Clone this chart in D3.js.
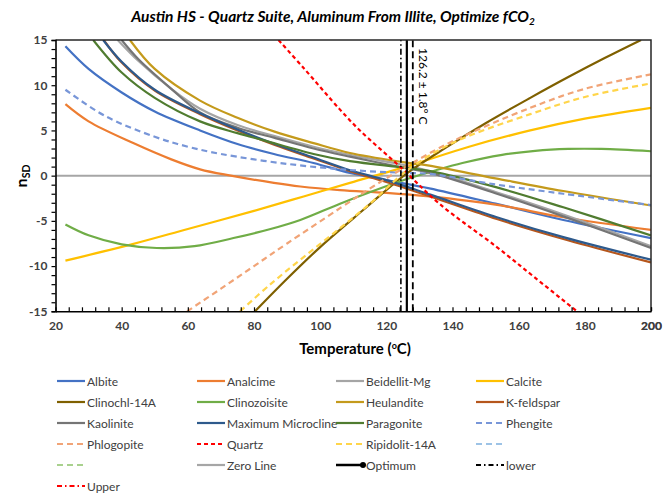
<!DOCTYPE html>
<html>
<head>
<meta charset="utf-8">
<script src="https://cdn.jsdelivr.net/npm/d3@7"></script>
<style>
  html, body { margin: 0; padding: 0; background: #fff; }
  svg { display: block; font-family: Lato, "Open Sans", "Liberation Sans", sans-serif; }
</style>
</head>
<body>
<svg id="chart" width="664" height="493"></svg>
<script>
// ---- data: [temperature °C, n_SD] ----
const albite = [[23,14.3],[30,11.8],[40,9.2],[50,7.1],[63.7,5.0],[75,3.5],[86,2.4],[98,1.4],[109,0.3],[120,-0.5],[133,-1.4],[153,-3.1],[173.5,-4.9],[200,-6.9]];
const analcime = [[23,7.9],[30,6.0],[43.5,3.6],[55,1.8],[63.7,0.7],[73,0],[86,-0.8],[94,-1.2],[106,-1.6],[120,-1.9],[133,-2.3],[153,-3.2],[173.5,-4.6],[200,-6.0]];
const beidellitMg = [[38.8,15],[45,12.7],[55,9.6],[63.7,7.4],[75,5.6],[86,4.4],[98,3.2],[109,2.3],[125,1.2],[133,0.5],[153,-1.8],[173.5,-4.3],[200,-7.8]];
const calcite = [[23,-9.4],[43,-7.6],[60,-5.9],[80,-3.9],[95,-2.3],[109,-0.8],[126,1.0],[145,3.2],[163.5,5.0],[180,6.3],[200,7.5]];
const clinochl14A = [[80.3,-15],[90,-11.4],[100,-7.9],[113,-3.8],[126,0.2],[138,3.1],[150,5.8],[163.5,8.6],[175,10.9],[186,13.0],[197,15]];
const clinozoisite = [[23,-5.4],[30,-6.6],[40,-7.6],[50.6,-8.0],[62,-7.8],[73.8,-6.9],[85,-5.9],[94,-4.9],[106,-3.1],[116,-1.7],[126,-0.4],[135,0.6],[143,1.4],[155,2.3],[165,2.75],[175,2.95],[185,2.95],[200,2.7]];
const heulandite = [[42.5,15],[50,11.8],[63.7,8.3],[75,6.4],[86,4.9],[98,3.6],[109,2.5],[125,1.5],[133,1.1],[153,-0.3],[173.5,-1.7],[200,-3.3]];
const kFeldspar = [[34.6,15],[40,12.5],[50,9.4],[63.7,6.8],[75,5.0],[86.3,3.4],[98,1.9],[109,0.5],[120,-0.7],[133.3,-2.3],[153.4,-4.8],[173.5,-7.0],[200,-9.6]];
const kaolinite = [[40,15],[45,12.9],[55,9.6],[63.7,7.0],[75,5.3],[86,4.2],[98,3.0],[109,2.1],[125,0.9],[133.3,0.3],[153.4,-2.0],[173.5,-4.5],[200,-8.0]];
const maxMicrocline = [[34.4,15],[40,12.6],[50,9.5],[63.7,6.9],[75,5.1],[86.3,3.5],[98,2.0],[109,0.6],[120,-0.5],[133.3,-2.1],[153.4,-4.6],[173.5,-6.8],[200,-9.3]];
const paragonite = [[31.4,15],[40,11.4],[50,8.6],[63.7,6.0],[75,4.7],[83,3.9],[98,2.4],[109,1.6],[125,0.9],[133.3,0.5],[153.4,-1.3],[173.5,-3.5],[200,-6.6]];
const phengite = [[23,9.5],[35,6.6],[50,4.3],[60,3.2],[70,2.4],[90,1.3],[110,0.6],[126,0.3],[133,0.2],[153.4,-1.0],[173.5,-2.0],[200,-3.25]];
const phlogopite = [[59.8,-15],[70,-12.5],[80,-10.0],[90,-7.5],[106,-3.6],[116,-1.2],[126,1.0],[140,3.8],[163.5,7.5],[180,9.6],[200,11.2]];
const quartz = [[87.4,15],[95,11.9],[106,7.3],[112,5.0],[124.7,0.8],[136,-3.1],[153.4,-7.9],[165,-11.3],[177.6,-15]];
const ripidolit14A = [[75.8,-15],[85,-12.0],[95,-9.0],[106,-5.8],[116,-2.8],[126,0.5],[140,3.6],[163.5,6.8],[180,8.7],[200,10.2]];
const unnamedBlue = [];
const unnamedGreen = [];
const zeroLine = [[20,0],[200,0]];

const optimumT = 126.2;
const spreadT = 1.8;
const lowerT = 124.4;
const upperT = 128.0;

const xTicks = [20,40,60,80,100,120,140,160,180,200];
const yTicks = [-15,-10,-5,0,5,10,15];

// ---- series styling ----
const series = [
  {name: "Albite", data: albite, color: "#4472C4"},
  {name: "Analcime", data: analcime, color: "#ED7D31"},
  {name: "Beidellit-Mg", data: beidellitMg, color: "#A5A5A5"},
  {name: "Calcite", data: calcite, color: "#FFC000"},
  {name: "Clinochl-14A", data: clinochl14A, color: "#7F6000"},
  {name: "Clinozoisite", data: clinozoisite, color: "#70AD47"},
  {name: "Heulandite", data: heulandite, color: "#C49A1C"},
  {name: "K-feldspar", data: kFeldspar, color: "#B5561C"},
  {name: "Kaolinite", data: kaolinite, color: "#757575"},
  {name: "Maximum Microcline", data: maxMicrocline, color: "#2E5A8C"},
  {name: "Paragonite", data: paragonite, color: "#507C30"},
  {name: "Phengite", data: phengite, color: "#7896D8", dash: "6,4"},
  {name: "Phlogopite", data: phlogopite, color: "#F1A477", dash: "6,4"},
  {name: "Quartz", data: quartz, color: "#FF0000", dash: "4,3"},
  {name: "Ripidolit-14A", data: ripidolit14A, color: "#FFD54A", dash: "6,4"},
  {name: "", data: unnamedBlue, color: "#9DC3E6", dash: "6,4"},
  {name: "", data: unnamedGreen, color: "#A9D18E", dash: "6,4"},
  {name: "Zero Line", data: zeroLine, color: "#A6A6A6"}
];

const svg = d3.select("#chart");
const plot = {left: 55.5, right: 651, top: 40, bottom: 311.3};

const x = d3.scaleLinear().domain([20, 200]).range([plot.left, plot.right]);
const y = d3.scaleLinear().domain([-15, 15]).range([plot.bottom, plot.top]);

svg.append("defs").append("clipPath").attr("id", "plotClip")
  .append("rect")
  .attr("x", plot.left).attr("y", plot.top)
  .attr("width", plot.right - plot.left).attr("height", plot.bottom - plot.top);

// title
const title = svg.append("text")
  .attr("x", 333).attr("y", 22)
  .attr("text-anchor", "middle")
  .attr("font-size", 15.5).attr("font-weight", "bold").attr("font-style", "italic")
  .attr("fill", "#000");
title.append("tspan").text("Austin HS - Quartz Suite, Aluminum From Illite, Optimize fCO");
title.append("tspan").attr("font-size", 10).attr("dy", 3).text("2");

// curves
const line = d3.line()
  .x(d => x(d[0])).y(d => y(d[1]))
  .curve(d3.curveCatmullRom.alpha(0.5));

const g = svg.append("g").attr("clip-path", "url(#plotClip)");
const drawOrder = [series[17]].concat(series.slice(0, 17));
g.selectAll("path.series")
  .data(drawOrder.filter(s => s.data.length))
  .join("path")
  .attr("class", "series")
  .attr("d", s => line(s.data))
  .attr("fill", "none")
  .attr("stroke", s => s.color)
  .attr("stroke-width", s => s.name === "Zero Line" ? 2 : 2.2)
  .attr("stroke-dasharray", s => s.dash || null);

// optimum and bounds
g.append("line")
  .attr("x1", x(lowerT)).attr("x2", x(lowerT))
  .attr("y1", y(-15)).attr("y2", y(15))
  .attr("stroke", "#000").attr("stroke-width", 1.6)
  .attr("stroke-dasharray", "6,3,1.5,3");
g.append("line")
  .attr("x1", x(upperT)).attr("x2", x(upperT))
  .attr("y1", y(-15)).attr("y2", y(15))
  .attr("stroke", "#000").attr("stroke-width", 1.8)
  .attr("stroke-dasharray", "7,4");
g.append("line")
  .attr("x1", x(optimumT)).attr("x2", x(optimumT))
  .attr("y1", y(-15)).attr("y2", y(15))
  .attr("stroke", "#000").attr("stroke-width", 2.2);

svg.append("text")
  .attr("transform", `translate(${x(upperT) + 11},${plot.top + 8}) rotate(90)`)
  .attr("font-size", 12).attr("fill", "#000")
  .attr("dominant-baseline", "central")
  .text(`${optimumT} ± ${spreadT}° C`);

// frame
svg.append("path")
  .attr("d", `M${plot.left},${plot.top}H${plot.right}V${plot.bottom}`)
  .attr("fill", "none").attr("stroke", "#262626").attr("stroke-width", 1.5);

// y axis: ticks outside, minor every 1
const yAxis = d3.axisLeft(y).tickValues(d3.range(-15, 16, 1)).tickSize(4)
  .tickFormat(d => yTicks.includes(d) ? d : "");
const ya = svg.append("g").attr("transform", `translate(${plot.left},0)`).call(yAxis);
ya.select(".domain").attr("stroke", "#000").attr("stroke-width", 1.6);
ya.selectAll(".tick line").attr("stroke", "#000").attr("stroke-width", 1.2);
ya.selectAll(".tick text")
  .attr("x", -8)
  .attr("font-size", 12).attr("font-weight", "bold").attr("fill", "#404040")
  .attr("font-family", "Lato, sans-serif");

// x axis: ticks inside, minor every 4
const xAxis = d3.axisBottom(x).tickValues(d3.range(20, 201, 4).concat([200])).tickSizeInner(-4).tickSizeOuter(0)
  .tickFormat(d => xTicks.includes(d) ? d : "");
const xa = svg.append("g").attr("transform", `translate(0,${plot.bottom})`).call(xAxis);
xa.select(".domain").attr("stroke", "#000").attr("stroke-width", 1.6);
xa.selectAll(".tick line").attr("stroke", "#000").attr("stroke-width", 1.2);
xa.selectAll(".tick text")
  .attr("y", 10)
  .attr("font-size", 12).attr("font-weight", "bold").attr("fill", "#404040")
  .attr("font-family", "Lato, sans-serif");

// axis titles
const xt = svg.append("text")
  .attr("x", 355).attr("y", 354)
  .attr("text-anchor", "middle")
  .attr("font-size", 15).attr("font-weight", "bold").attr("fill", "#000");
xt.append("tspan").text("Temperature (");
xt.append("tspan").attr("font-size", 9).attr("dy", -5).text("o");
xt.append("tspan").attr("dy", 5).text("C)");

const yt = svg.append("text")
  .attr("transform", "translate(27,176) rotate(-90)")
  .attr("text-anchor", "middle")
  .attr("font-size", 16).attr("font-weight", "bold").attr("fill", "#000");
yt.append("tspan").text("n");
yt.append("tspan").attr("font-size", 10.5).attr("dy", 3).text("SD");

// legend
const legendItems = series.map(s => ({name: s.name, color: s.color, dash: s.dash || null, kind: "line"}))
  .concat([
    {name: "Optimum", color: "#000", dash: null, kind: "marker"},
    {name: "lower", color: "#000", dash: "5,3,1.5,3", kind: "line"},
    {name: "Upper", color: "#FF0000", dash: "5,3,1.5,3", kind: "line"}
  ]);

const colX = [57, 197, 336, 476];
const rowY0 = 381, rowH = 21;
const lg = svg.append("g");
legendItems.forEach((it, i) => {
  const cx = colX[i % 4], cy = rowY0 + Math.floor(i / 4) * rowH;
  const item = lg.append("g").attr("transform", `translate(${cx},${cy})`);
  item.append("line")
    .attr("x1", 0).attr("x2", 28).attr("y1", 0).attr("y2", 0)
    .attr("stroke", it.color).attr("stroke-width", it.kind === "marker" ? 2.5 : 2.2)
    .attr("stroke-dasharray", it.dash);
  if (it.kind === "marker") {
    item.append("circle").attr("cx", 27).attr("cy", 0).attr("r", 3).attr("fill", "#000");
  }
  item.append("text")
    .attr("x", 30).attr("y", 0)
    .attr("dominant-baseline", "central")
    .attr("font-size", 12).attr("fill", "#404040")
    .text(it.name);
});
</script>
</body>
</html>
